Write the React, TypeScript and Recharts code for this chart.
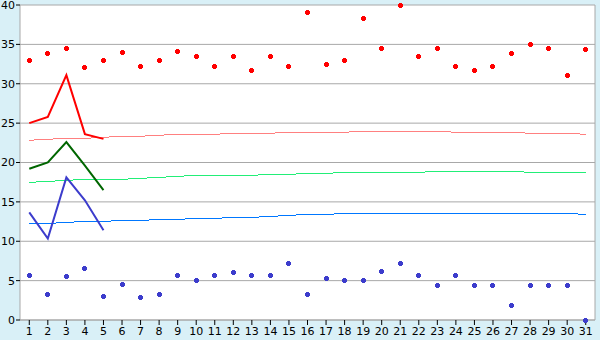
import React from "react";
import { ComposedChart, Line, XAxis, YAxis, CartesianGrid } from "recharts";

const days = Array.from({ length: 31 }, (_, i) => String(i + 1));
const maxTemps = [32.9, 33.9, 34.5, 32.0, 32.9, 34.0, 32.2, 33.0, 34.1, 33.4, 32.2, 33.4, 31.7, 33.4, 32.2, 39.0, 32.5, 33.0, 38.3, 34.5, 40.0, 33.5, 34.5, 32.2, 31.7, 32.2, 33.9, 35.0, 34.5, 31.0, 34.4];
const minTemps = [5.6, 3.2, 5.5, 6.5, 3.0, 4.5, 2.85, 3.2, 5.6, 5.0, 5.6, 6.0, 5.6, 5.6, 7.2, 3.2, 5.3, 5.0, 5.0, 6.15, 7.2, 5.6, 4.4, 5.6, 4.4, 4.4, 1.8, 4.4, 4.4, 4.4, 0.0];
const forecastMax = [25.0, 25.8, 31.1, 23.6, 23.0];
const forecastMid = [19.2, 20.0, 22.6, 19.6, 16.5];
const forecastMin = [13.66, 10.35, 18.1, 15.2, 11.4];
const normalMax = [22.82, 22.95, 23.07, 23.07, 23.2, 23.33, 23.33, 23.46, 23.58, 23.58, 23.58, 23.71, 23.71, 23.71, 23.84, 23.84, 23.84, 23.84, 23.97, 23.97, 23.97, 23.97, 23.97, 23.84, 23.84, 23.84, 23.84, 23.71, 23.71, 23.71, 23.58];
const normalMid = [17.48, 17.6, 17.73, 17.86, 17.86, 17.86, 17.99, 18.11, 18.24, 18.37, 18.37, 18.37, 18.37, 18.49, 18.49, 18.62, 18.62, 18.75, 18.75, 18.75, 18.75, 18.75, 18.88, 18.88, 18.88, 18.88, 18.88, 18.75, 18.75, 18.75, 18.75];
const normalMin = [12.26, 12.26, 12.39, 12.52, 12.52, 12.64, 12.64, 12.77, 12.77, 12.9, 12.9, 13.03, 13.03, 13.15, 13.28, 13.41, 13.41, 13.53, 13.53, 13.53, 13.53, 13.53, 13.53, 13.53, 13.53, 13.53, 13.53, 13.53, 13.53, 13.53, 13.41];
const yTicks = [0, 5, 10, 15, 20, 25, 30, 35, 40];

const data = days.map((d, i) => ({
  day: d,
  max: maxTemps[i],
  min: minTemps[i],
  fMax: forecastMax[i] ?? null,
  fMid: forecastMid[i] ?? null,
  fMin: forecastMin[i] ?? null,
  nMax: normalMax[i],
  nMid: normalMid[i],
  nMin: normalMin[i],
}));

const makeMarker = (color: string) => (props: any) => {
  const { cx, cy, index } = props;
  if (cx == null || cy == null || isNaN(cy)) return <g key={index} />;
  const x = Math.round(cx - 2.5);
  const y = Math.round(cy - 2.5);
  const d = `M${x + 1},${y} h3 v1 h1 v3 h-1 v1 h-3 v-1 h-1 v-3 h1 z`;
  return <path key={index} d={d} fill={color} stroke="none" shapeRendering="crispEdges" />;
};

const tickStyle = { fontFamily: "DejaVu Sans", fontSize: 11, fill: "#000" };
const grey = "#a8a8a8";

export default function App() {
  return (
    <div style={{ position: "absolute", left: 0, top: 0, width: 600, height: 340, background: "#d9f0f7" }}>
      <ComposedChart width={600} height={340} data={data} margin={{ top: 5, right: 4, bottom: 0, left: 0 }}>
        <CartesianGrid vertical={false} stroke={grey} fill="#ffffff" fillOpacity={1} />
        <XAxis dataKey="day" scale="band" interval={0} tick={tickStyle} tickSize={5} tickMargin={2} stroke={grey} tickLine={{ stroke: "#000" }} axisLine={{ stroke: grey }} height={20} />
        <YAxis domain={[0, 40]} ticks={yTicks} interval={0} tick={tickStyle} tickSize={4} tickMargin={1} width={20} tickLine={{ stroke: "#000" }} axisLine={{ stroke: grey }} />
        <YAxis yAxisId="r" orientation="right" domain={[0, 40]} tick={false} tickLine={false} width={1} axisLine={{ stroke: grey }} />
        <Line dataKey="nMax" stroke="#ff8080" strokeWidth={1} dot={false} activeDot={false} isAnimationActive={false} type="linear" shapeRendering="crispEdges" />
        <Line dataKey="nMid" stroke="#22ee77" strokeWidth={1} dot={false} activeDot={false} isAnimationActive={false} type="linear" shapeRendering="crispEdges" />
        <Line dataKey="nMin" stroke="#0077ff" strokeWidth={1} dot={false} activeDot={false} isAnimationActive={false} type="linear" shapeRendering="crispEdges" />
        <Line dataKey="fMax" stroke="#ff0000" strokeWidth={2} dot={false} activeDot={false} isAnimationActive={false} type="linear" />
        <Line dataKey="fMid" stroke="#006600" strokeWidth={2} dot={false} activeDot={false} isAnimationActive={false} type="linear" />
        <Line dataKey="fMin" stroke="#3c3ccc" strokeWidth={2} dot={false} activeDot={false} isAnimationActive={false} type="linear" />
        <Line dataKey="max" stroke="none" dot={makeMarker("#ff0000")} activeDot={false} isAnimationActive={false} />
        <Line dataKey="min" stroke="none" dot={makeMarker("#3c3ccc")} activeDot={false} isAnimationActive={false} />
      </ComposedChart>
    </div>
  );
}
